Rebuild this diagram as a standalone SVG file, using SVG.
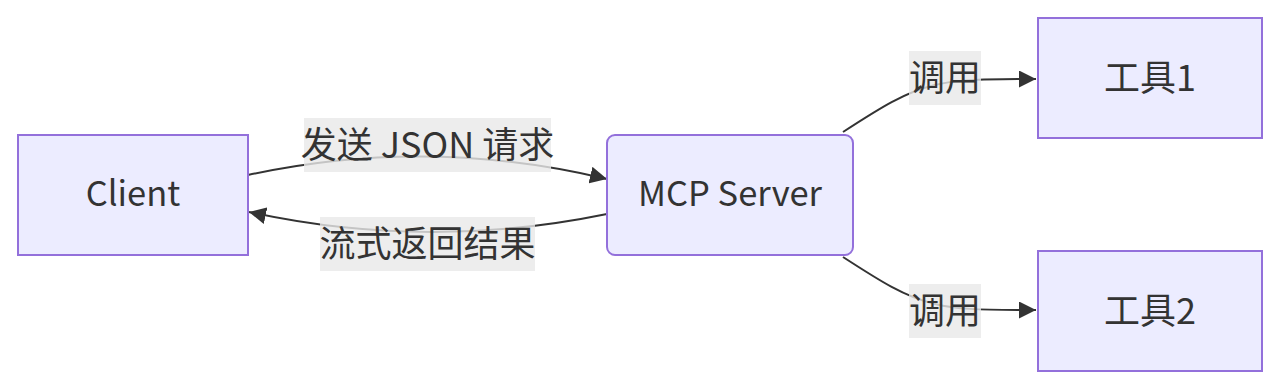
<svg xmlns="http://www.w3.org/2000/svg" width="1280" height="389" viewBox="0 0 1280 389">
<style>
.node rect{fill:#ECECFF;stroke:#9370DB;stroke-width:2}
.label{font-family:"Noto Sans CJK SC","Noto Sans",sans-serif;font-size:36px;fill:#333;text-anchor:middle;dominant-baseline:central}
.latin{font-size:34.5px}
.edge{fill:none;stroke:#333;stroke-width:2;marker-end:url(#arrow)}
.elbg{fill:rgba(232,232,232,0.8)}
</style>
<defs>
<marker id="arrow" viewBox="0 0 10 10" refX="10" refY="5" markerWidth="17" markerHeight="17" markerUnits="userSpaceOnUse" orient="auto">
<path d="M0,0 L10,5 L0,10 z" fill="#333"/>
</marker>
</defs>
<rect width="1280" height="389" fill="#fff"/>
<g id="connectors">
<path class="edge" d="M248,175 Q427,136 607,179"/>
<path class="edge" d="M607,214 Q427,251 249,212"/>
<path class="edge" d="M843,132 C880,108 905,92 935,85 C955,80 975,79 1036,79"/>
<path class="edge" d="M843,257 C880,281 905,297 935,304 C955,309 975,310 1036,310"/>
<g id="edge-labels">
<rect class="elbg" x="304" y="118" width="247" height="54"/>
<text class="label" x="427.5" y="142">发送 JSON 请求</text>
<rect class="elbg" x="320" y="217" width="215" height="54"/>
<text class="label" x="427.5" y="241">流式返回结果</text>
<rect class="elbg" x="909" y="51" width="72" height="54"/>
<text class="label" x="945" y="75">调用</text>
<rect class="elbg" x="909" y="284" width="72" height="54"/>
<text class="label" x="945" y="308">调用</text>
</g>
</g>
<g id="client" class="node">
<rect x="18" y="135" width="230" height="120"/>
<text class="label latin" x="133" y="191">Client</text>
</g>
<g id="server" class="node">
<rect x="607" y="135" width="246" height="120" rx="8" ry="8"/>
<text class="label latin" x="730" y="191">MCP Server</text>
</g>
<g id="tool1" class="node">
<rect x="1038" y="18" width="224" height="120"/>
<text class="label" x="1150" y="75">工具1</text>
</g>
<g id="tool2" class="node">
<rect x="1038" y="251" width="224" height="120"/>
<text class="label" x="1150" y="308">工具2</text>
</g>
</svg>
